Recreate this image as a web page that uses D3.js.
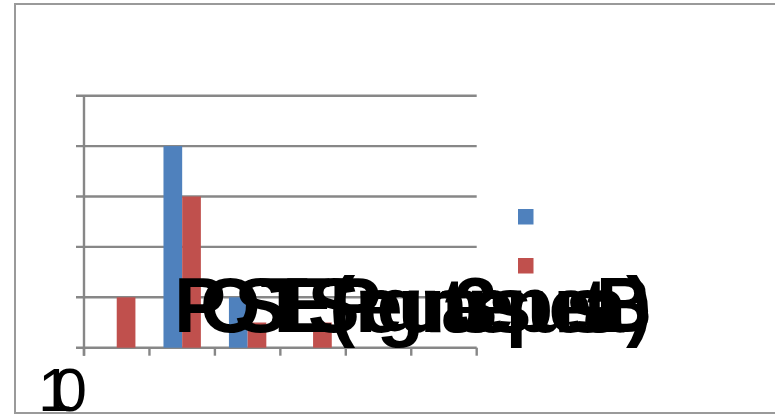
<!DOCTYPE html>
<html>
<head>
<meta charset="utf-8">
<script src="https://cdn.jsdelivr.net/npm/d3@7"></script>
<style>
  html, body { margin: 0; padding: 0; background: #ffffff; }
  svg { display: block; }
</style>
</head>
<body>
<svg id="chart" width="775" height="416"></svg>
<script>
// ---- data ----
const categories = ["1", "2", "3", "4", "5", "6"];
const seriesNames = ["POSTES (Pregunta 3 respuesta A)", "POSTES (Pregunta 3 respuesta B)"];
const seriesA = [0, 8, 2, 0, 0, 0];
const seriesB = [2, 6, 1, 1, 0, 0];
const yTicks = [0, 2, 4, 6, 8, 10];
const axisLabel = "10";
const legendLabel = "POSTES (Pregunta 3 respuesta B)";
const colors = ["#4F81BD", "#C0504D"];

const svg = d3.select("#chart");

// outer chart border
svg.append("rect")
  .attr("x", 15).attr("y", 4)
  .attr("width", 800).attr("height", 409)
  .attr("fill", "#ffffff")
  .attr("stroke", "#9a9a9a")
  .attr("stroke-width", 2);

const x0 = d3.scaleBand().domain(categories).range([84, 476.7]).paddingInner(0).paddingOuter(0);
const x1 = d3.scaleBand().domain([0, 1]).range([0, x0.bandwidth()]).paddingInner(0).paddingOuter(0.75);
const y = d3.scaleLinear().domain([0, 10]).range([347.7, 95.7]);

const gridColor = "#878787";

// horizontal gridlines (with left tick extension)
svg.append("g").selectAll("line")
  .data(yTicks)
  .join("line")
  .attr("x1", 76).attr("x2", 476.7)
  .attr("y1", d => y(d)).attr("y2", d => y(d))
  .attr("stroke", gridColor)
  .attr("stroke-width", 2.4);

// y axis line
svg.append("line")
  .attr("x1", 84).attr("x2", 84)
  .attr("y1", y(10)).attr("y2", y(0) + 8)
  .attr("stroke", gridColor)
  .attr("stroke-width", 2.4);

// x axis ticks
const xTickPos = categories.map(c => x0(c)).concat([x0.range()[1]]);
svg.append("g").selectAll("line")
  .data(xTickPos)
  .join("line")
  .attr("x1", d => d).attr("x2", d => d)
  .attr("y1", y(0)).attr("y2", y(0) + 8)
  .attr("stroke", gridColor)
  .attr("stroke-width", 2.4);

// bars
const rows = categories.map((c, i) => ({ cat: c, vals: [seriesA[i], seriesB[i]] }));
const g = svg.append("g").selectAll("g")
  .data(rows)
  .join("g")
  .attr("transform", d => `translate(${x0(d.cat)},0)`);
g.selectAll("rect")
  .data(d => d.vals.map((v, k) => ({ k, v })))
  .join("rect")
  .attr("x", d => x1(d.k))
  .attr("width", x1.bandwidth())
  .attr("y", d => y(d.v))
  .attr("height", d => y(0) - y(d.v))
  .attr("fill", d => colors[d.k]);

// legend keys
const legendY = [209, 258];
svg.append("g").selectAll("rect")
  .data(seriesNames)
  .join("rect")
  .attr("x", 518)
  .attr("y", (d, i) => legendY[i])
  .attr("width", 15.5)
  .attr("height", 15.5)
  .attr("fill", (d, i) => colors[i]);

// overlapping legend label (as rendered in the reference)
svg.append("text")
  .attr("x", 174)
  .attr("y", 332)
  .attr("font-family", "'Liberation Sans Narrow', 'Arial Narrow', 'Liberation Sans', sans-serif")
  .attr("font-weight", "bold")
  .attr("font-size", 78)
  .attr("fill", "#000000")
  .attr("textLength", 478)
  .attr("lengthAdjust", "spacing")
  .text(legendLabel);

// overlapping axis label
svg.append("text")
  .attr("x", 38)
  .attr("y", 411)
  .attr("font-family", "'Liberation Sans Narrow', 'Arial Narrow', 'Liberation Sans', sans-serif")
  .attr("font-size", 62)
  .attr("fill", "#000000")
  .attr("letter-spacing", -20)
  .text(axisLabel);
</script>
</body>
</html>
